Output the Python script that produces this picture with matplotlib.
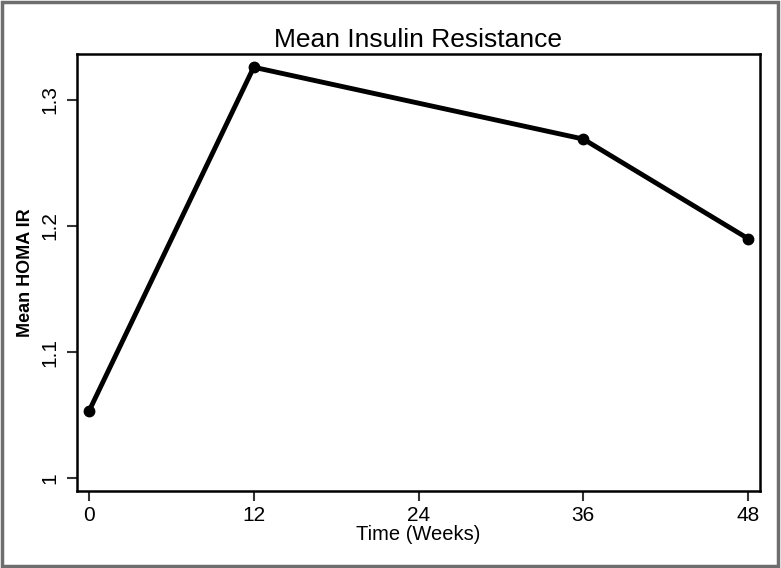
import matplotlib
matplotlib.use('Agg')
import matplotlib.pyplot as plt
from matplotlib.patches import Rectangle

plt.rcParams['font.family'] = ['Liberation Sans', 'DejaVu Sans']

weeks = [0, 12, 36, 48]
homa_ir = [1.053, 1.326, 1.269, 1.190]
xticks = [0, 12, 24, 36, 48]
yticks = [1.0, 1.1, 1.2, 1.3]
ytick_labels = ['1', '1.1', '1.2', '1.3']

fig = plt.figure(figsize=(7.81, 5.68), dpi=100)
ax = fig.add_axes([77 / 781, 1 - 491 / 568, 683 / 781, 437 / 568])

ax.plot(weeks, homa_ir, color='black', lw=3.5, marker='o', markersize=7.5)

ax.set_xlim(-0.87, 48.87)
ax.set_ylim(0.9897, 1.3365)
ax.set_xticks(xticks)
ax.set_yticks(yticks)
ax.set_yticklabels(ytick_labels, rotation=90, va='center')
ax.tick_params(direction='out', length=7, width=1.5, labelsize=15, color='#333333')
ax.tick_params(axis='x', pad=4)
ax.tick_params(axis='y', pad=6)
for s in ax.spines.values():
    s.set_linewidth(1.8)

ax.set_title('Mean Insulin Resistance', fontsize=19, pad=5)
ax.set_xlabel('Time (Weeks)', fontsize=14.5, labelpad=0)
ax.set_ylabel('Mean HOMA IR', fontsize=13, fontweight='bold', labelpad=4)

# outer frame around the whole figure
fig.patches.append(Rectangle((0.002, 0.003), 0.994, 0.994, transform=fig.transFigure,
                             fill=False, edgecolor='#6e6e6e', lw=2.5))

fig.savefig('out.png', dpi=100)
